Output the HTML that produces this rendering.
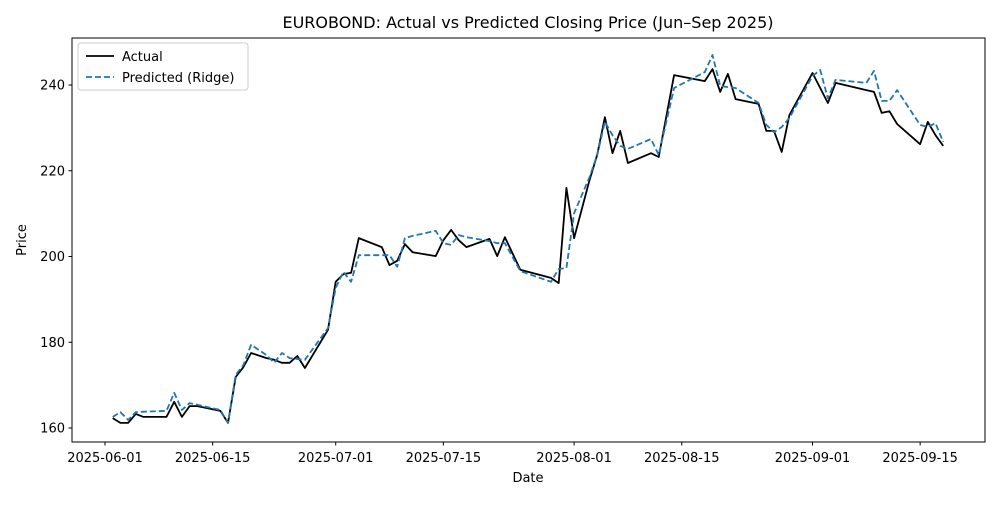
<!DOCTYPE html>
<html><head><meta charset="utf-8"><style>
body{margin:0;background:#fff;font-family:"Liberation Sans","DejaVu Sans",sans-serif;}
svg text{font-family:"DejaVu Sans","Liberation Sans",sans-serif;}
</style></head><body>
<svg id="chart" width="1000" height="500" xmlns="http://www.w3.org/2000/svg">
<rect width="1000" height="500" fill="#fff"/>
<text x="528" y="28" font-size="16" text-anchor="middle">EUROBOND: Actual vs Predicted Closing Price (Jun–Sep 2025)</text>
<g id="grid"></g>
<g id="lines"></g>
<rect x="72" y="38" width="913" height="404" fill="none" stroke="#000" stroke-width="1"/>
<g id="axes"></g>
<text x="528" y="482" font-size="13" text-anchor="middle">Date</text>
<text x="26" y="240" font-size="13" text-anchor="middle" transform="rotate(-90 26 240)">Price</text>
<g>
<rect x="78" y="43" width="170" height="47" rx="3" fill="#fff" fill-opacity="0.8" stroke="#ccc"/>
<line x1="86" y1="56" x2="114" y2="56" stroke="#000" stroke-width="1.8"/>
<text x="122" y="61" font-size="13">Actual</text>
<line x1="86" y1="77" x2="114" y2="77" stroke="#1f77b4" stroke-width="1.8" stroke-dasharray="6,3"/>
<text x="122" y="82" font-size="13">Predicted (Ridge)</text>
</g>
</svg>
<script>
const dayOffsets=[1,2,3,4,5,8,9,10,11,12,15,16,17,18,19,21,22,23,24,25,26,29,30,31,32,33,36,37,38,39,40,43,44,45,46,47,50,51,52,54,58,59,60,61,63,64,65,66,67,68,71,72,74,78,79,80,81,82,85,86,87,88,89,92,93,94,95,99,100,101,102,103,106,107,108,109];
const actual=[162.3,161.2,161.2,163.3,162.6,162.6,166.1,162.6,165.1,165.1,164.0,161.2,171.9,174.2,177.5,176.3,175.9,175.2,175.2,176.8,174.0,182.9,194.1,195.9,196.2,204.3,202.2,198.0,199.0,202.9,201.0,200.1,203.8,206.2,203.8,202.2,204.1,200.1,204.5,196.9,195.0,193.8,216.0,204.3,217.8,223.7,232.5,224.1,229.3,221.8,224.1,223.2,242.3,240.9,243.7,238.4,242.6,236.7,235.6,229.3,229.3,224.4,233.0,242.8,239.3,235.8,240.5,238.8,238.4,233.5,233.9,230.9,226.2,231.4,228.3,225.8];
const predicted=[162.6,163.7,161.9,163.7,163.8,164.0,168.2,164.2,165.8,165.4,164.2,161.2,172.4,174.7,179.4,177.0,175.2,177.5,176.3,176.1,175.9,183.3,192.7,196.4,194.1,200.3,200.3,200.3,197.6,204.3,204.8,206.0,203.1,202.7,205.0,204.5,203.6,203.1,203.1,196.6,194.1,197.1,197.3,210.1,218.5,223.7,231.4,228.3,225.8,225.1,227.4,223.7,239.3,243.0,247.0,239.8,239.5,239.3,235.8,230.7,229.0,230.2,232.3,242.1,243.5,236.9,241.2,240.5,243.3,236.3,236.3,238.8,230.7,230.2,231.1,226.7];
const yTicks=[160,180,200,220,240];
const xTickDays=[0,14,30,44,61,75,92,106];
const xTickLabels=["2025-06-01","2025-06-15","2025-07-01","2025-07-15","2025-08-01","2025-08-15","2025-09-01","2025-09-15"];

const NS="http://www.w3.org/2000/svg";
function xs(d){return 105+d*7.69;}
function ys(v){return 428-(v-160)*4.2875;}
const axes=document.getElementById('axes'),lines=document.getElementById('lines');
function mk(tag,attrs,parent){const e=document.createElementNS(NS,tag);for(const k in attrs)e.setAttribute(k,attrs[k]);parent.appendChild(e);return e;}
yTicks.forEach(v=>{
  const t=mk('line',{x1:68.5,x2:72,y1:ys(v),y2:ys(v),stroke:'#000'},axes);
  
  
  const l=mk('text',{x:65,y:ys(v)+4.5,'font-size':13,'text-anchor':'end'},axes);
  
  
  l.textContent=v;
});
xTickDays.forEach((d,i)=>{
  const t=mk('line',{x1:xs(d),x2:xs(d),y1:442,y2:445.5,stroke:'#000'},axes);
  
  
  const l=mk('text',{x:xs(d),y:462,'font-size':13,'text-anchor':'middle'},axes);
  
  
  l.textContent=xTickLabels[i];
});
function pts(vals){return dayOffsets.map((d,i)=>xs(d).toFixed(1)+','+ys(vals[i]).toFixed(1)).join(' ');}
const a=mk('polyline',{points:pts(actual),fill:'none',stroke:'#000','stroke-width':1.8,'stroke-linejoin':'round'},lines);


const p=mk('polyline',{points:pts(predicted),fill:'none',stroke:'#1f77b4','stroke-width':1.8,'stroke-dasharray':'6,3','stroke-linejoin':'round'},lines);


</script>
</body></html>
